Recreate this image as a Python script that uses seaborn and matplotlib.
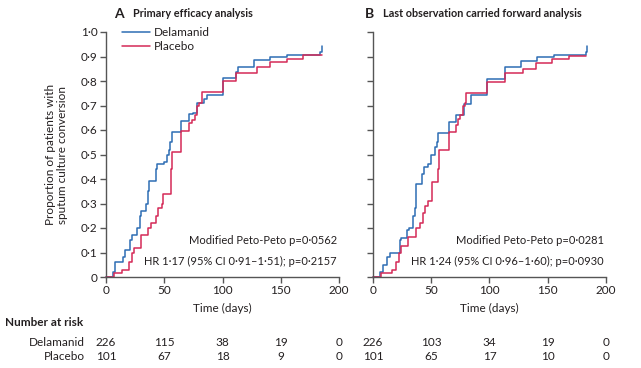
import numpy as np
import pandas as pd
import matplotlib
matplotlib.use("Agg")
import matplotlib.pyplot as plt
import seaborn as sns

# ---------------- data ----------------
# Panel A: primary efficacy analysis (step curves, day -> cumulative proportion)
a_del_days = [0, 6, 8, 15, 16, 21, 22, 27, 29, 30, 34, 36, 37, 43, 44, 50, 52, 54, 55, 57, 64, 71, 75, 78, 84, 87, 100, 112, 113, 127, 141, 155, 184, 185]
a_del_prop = [0, 0.02, 0.06, 0.08, 0.11, 0.15, 0.17, 0.20, 0.25, 0.27, 0.30, 0.35, 0.39, 0.44, 0.46, 0.47, 0.50, 0.52, 0.55, 0.59, 0.635, 0.664, 0.67, 0.71, 0.725, 0.741, 0.813, 0.835, 0.856, 0.884, 0.897, 0.905, 0.92, 0.943]
a_pla_days = [0, 7, 14, 20, 22, 24, 30, 36, 39, 43, 45, 48, 49, 56, 57, 64, 71, 74, 76, 78, 80, 82, 100, 112, 130, 141, 155, 169, 185]
a_pla_prop = [0, 0.015, 0.03, 0.06, 0.10, 0.12, 0.17, 0.20, 0.22, 0.25, 0.28, 0.30, 0.34, 0.44, 0.51, 0.595, 0.63, 0.64, 0.66, 0.70, 0.71, 0.754, 0.798, 0.831, 0.856, 0.876, 0.89, 0.905, 0.905]

# Panel B: last observation carried forward analysis
b_del_days = [0, 6, 9, 12, 15, 23, 24, 29, 31, 34, 36, 37, 42, 44, 47, 50, 53, 55, 56, 65, 71, 78, 84, 98, 113, 127, 141, 155, 183, 184]
b_del_prop = [0, 0.02, 0.05, 0.08, 0.10, 0.15, 0.16, 0.19, 0.20, 0.25, 0.28, 0.38, 0.42, 0.45, 0.46, 0.50, 0.53, 0.55, 0.588, 0.633, 0.66, 0.706, 0.742, 0.81, 0.856, 0.883, 0.899, 0.905, 0.92, 0.943]
b_pla_days = [0, 7, 16, 20, 22, 24, 30, 37, 40, 43, 45, 47, 51, 56, 57, 65, 71, 73, 75, 77, 79, 80, 98, 113, 129, 140, 154, 168, 183]
b_pla_prop = [0, 0.015, 0.03, 0.06, 0.10, 0.125, 0.165, 0.20, 0.22, 0.26, 0.29, 0.31, 0.386, 0.44, 0.518, 0.593, 0.62, 0.645, 0.66, 0.70, 0.71, 0.752, 0.797, 0.831, 0.848, 0.875, 0.888, 0.903, 0.903]

groups = ["Delamanid", "Placebo"]
panel_titles = ["Primary efficacy analysis", "Last observation carried forward analysis"]
panel_letters = ["A", "B"]
peto_text = ["Modified Peto-Peto p=0·0562", "Modified Peto-Peto p=0·0281"]
hr_text = ["HR 1·17 (95% CI 0·91–1·51); p=0·2157", "HR 1·24 (95% CI 0·96–1·60); p=0·0930"]

x_ticks = [0, 50, 100, 150, 200]
y_ticks = [0, 0.1, 0.2, 0.3, 0.4, 0.5, 0.6, 0.7, 0.8, 0.9, 1.0]
y_tick_labels = ["0", "0·1", "0·2", "0·3", "0·4", "0·5", "0·6", "0·7", "0·8", "0·9", "1·0"]

risk_a_del = [226, 115, 38, 19, 0]
risk_a_pla = [101, 67, 18, 9, 0]
risk_b_del = [226, 103, 34, 19, 0]
risk_b_pla = [101, 65, 17, 10, 0]

# ---------------- plot ----------------
sns.set_theme(style="ticks")
FONT = ["Lato", "DejaVu Sans"]
plt.rcParams["font.family"] = FONT
TXT = "#231f20"
SP = "#555555"
palette = {"Delamanid": "#2e6db4", "Placebo": "#d42a57"}

def make_df(dd, dp, pd_, pp):
    return pd.DataFrame({
        "day": dd + pd_,
        "prop": dp + pp,
        "group": ["Delamanid"] * len(dd) + ["Placebo"] * len(pd_),
    })

dfs = [make_df(a_del_days, a_del_prop, a_pla_days, a_pla_prop),
       make_df(b_del_days, b_del_prop, b_pla_days, b_pla_prop)]
risks = [(risk_a_del, risk_a_pla), (risk_b_del, risk_b_pla)]

W, H = 641, 368
fig = plt.figure(figsize=(W / 100, H / 100), dpi=100)
lefts = [106, 373]
width = 233
top_px, bot_px = 32, 277
FS = 8.5

axes = []
for i in range(2):
    ax = fig.add_axes([lefts[i] / W, 1 - bot_px / H, width / W, (bot_px - top_px) / H])
    axes.append(ax)
    sns.lineplot(data=dfs[i], x="day", y="prop", hue="group", hue_order=groups,
                 palette=palette, drawstyle="steps-post", linewidth=1.1,
                 estimator=None, sort=False, ax=ax, legend=(i == 0))
    for ln in ax.lines:
        ln.set_clip_on(False)
    ax.set_xlim(0, 200)
    ax.set_ylim(0, 1.0)
    ax.set_xticks(x_ticks)
    ax.set_xticklabels([str(t) for t in x_ticks])
    ax.set_yticks(y_ticks)
    if i == 0:
        ax.set_yticklabels(y_tick_labels)
        ax.set_ylabel("Proportion of patients with\nsputum culture conversion",
                      fontsize=FS, color=TXT, labelpad=9)
    else:
        ax.set_yticklabels([])
        ax.set_ylabel("")
    ax.set_xlabel("Time (days)", fontsize=FS, color=TXT, labelpad=5)
    for s in ["top", "right"]:
        ax.spines[s].set_visible(False)
    for s in ["left", "bottom"]:
        ax.spines[s].set_color(SP)
        ax.spines[s].set_linewidth(1.0)
    ax.tick_params(axis="both", direction="out", length=4, width=1.0,
                   color=SP, labelsize=FS, labelcolor=TXT, pad=2)
    ax.text(198, 0.15, peto_text[i], ha="right", va="center", fontsize=8, color=TXT)
    ax.text(198, 0.063, hr_text[i], ha="right", va="center", fontsize=8, color=TXT)
    # titles
    ax.text(0.035 if i == 0 else -0.035, 1.075, panel_letters[i], transform=ax.transAxes,
            fontsize=10, fontweight="bold", color=TXT, ha="left", va="center")
    ax.text(0.115 if i == 0 else 0.045, 1.075, panel_titles[i], transform=ax.transAxes,
            fontsize=7.8, fontweight="bold", color=TXT, ha="left", va="center")
    # number at risk
    rd, rp = risks[i]
    for xv, v1, v2 in zip(x_ticks, rd, rp):
        xf = (lefts[i] + xv / 200 * width) / W
        fig.text(xf, 1 - 342 / H, str(v1), ha="center", va="center", fontsize=FS, color=TXT)
        fig.text(xf, 1 - 357 / H, str(v2), ha="center", va="center", fontsize=FS, color=TXT)

sns.move_legend(axes[0], "upper left", bbox_to_anchor=(0.05, 1.04), frameon=False,
                title=None, fontsize=FS, handlelength=2.3, handletextpad=0.4,
                labelspacing=0.3, borderaxespad=0)
for t in axes[0].get_legend().get_texts():
    t.set_color(TXT)

fig.text(5 / W, 1 - 323 / H, "Number at risk", ha="left", va="center",
         fontsize=FS, fontweight="bold", color=TXT)
fig.text(85 / W, 1 - 342 / H, "Delamanid", ha="right", va="center", fontsize=FS, color=TXT)
fig.text(85 / W, 1 - 357 / H, "Placebo", ha="right", va="center", fontsize=FS, color=TXT)

fig.savefig("out.png", dpi=100)
